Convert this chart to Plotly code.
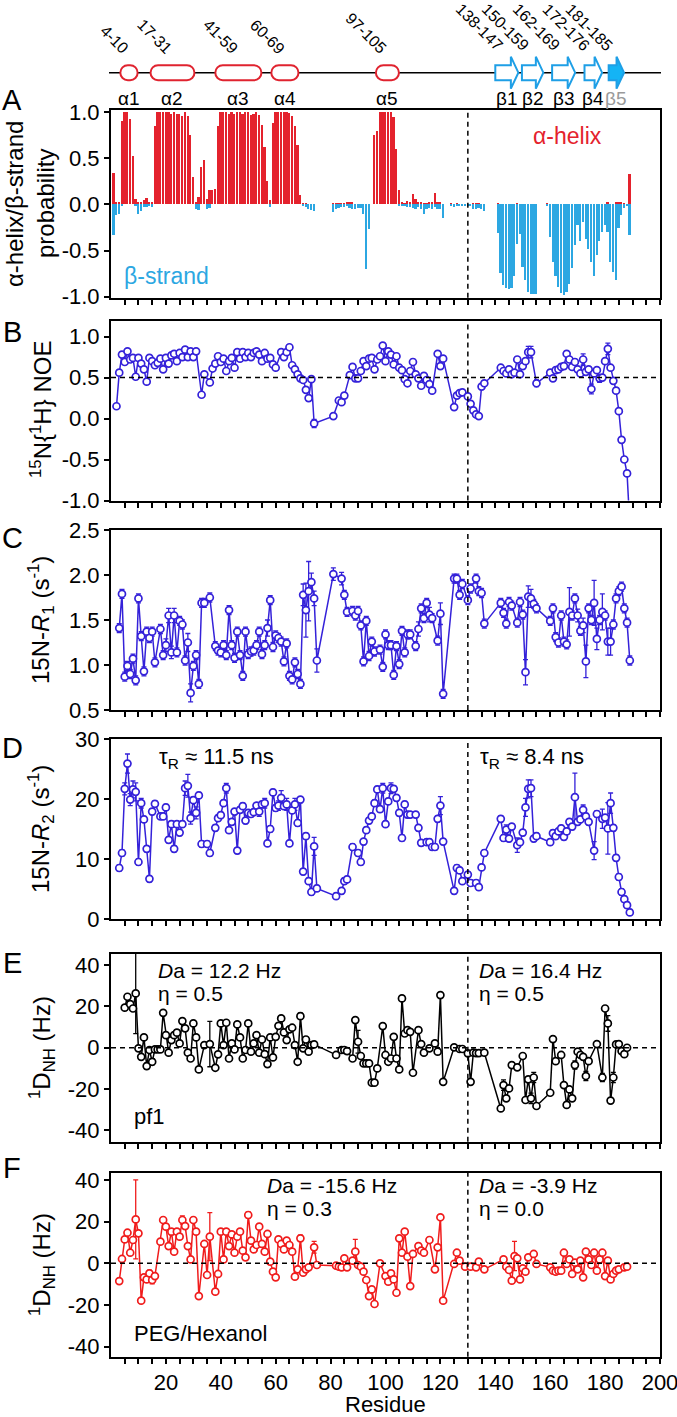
import plotly.graph_objects as go

W, H = 677, 1417


def rng(a, b):
    return list(range(a, b + 1))


# ---------------- DATA ----------------
# Panel A: secondary-structure probability (helix > 0, strand < 0)
ss_res = rng(1, 74) + rng(81, 121) + rng(124, 136) + rng(141, 155) + rng(159, 189)
helix_prob = [
    0.34, 0.03, 0.03, 0.90, 1.00, 1.00, 0.92, 0.52, 0.06, 0.02,
    0.02, 0.05, 0.07, 0.02, 0.02, 0.85, 1.00, 1.00, 1.00, 1.00,
    1.00, 0.98, 1.00, 0.98, 0.98, 0.96, 1.00, 0.96, 0.75, 0.30,
    0.03, 0.08, 0.40, 0.48, 0.06, 0.15, 0.16, 0.17, 0.85, 1.00,
    1.00, 1.00, 0.98, 1.00, 0.98, 1.00, 1.00, 0.98, 1.00, 1.00,
    0.97, 0.98, 1.00, 0.97, 0.86, 0.62, 0.25, 0.05, 0.88, 1.00,
    1.00, 1.00, 1.00, 1.00, 0.99, 0.95, 0.85, 0.64, 0.10, 0.01,
    0.01, 0.00, 0.00, 0.00,
    0.01, 0.01, 0.01, 0.01, 0.01, 0.03, 0.03, 0.02, 0.00, 0.00,
    0.00, 0.00, 0.00, 0.00, 0.00, 0.75, 0.79, 1.00, 1.00, 1.00,
    1.00, 1.00, 0.94, 0.60, 0.16, 0.02, 0.01, 0.04, 0.03, 0.11,
    0.06, 0.03, 0.02, 0.01, 0.01, 0.03, 0.03, 0.12, 0.03, 0.02,
    0.00,
    0.01, 0.00, 0.01, 0.00, 0.00, 0.00, 0.00, 0.00, 0.01, 0.01, 0.01, 0.00, 0.00,
    0.01, 0.00, 0.00, 0.00, 0.00, 0.00, 0.00, 0.01, 0.00, 0.00, 0.00, 0.00, 0.00, 0.00, 0.00,
    0.01, 0.00, 0.00, 0.00, 0.00, 0.00, 0.00, 0.00, 0.00, 0.00,
    0.00, 0.00, 0.00, 0.00, 0.00, 0.00, 0.00, 0.00, 0.00, 0.00,
    0.00, 0.00, 0.02, 0.00, 0.00, 0.03, 0.02, 0.02, 0.01, 0.00, 0.33,
]
strand_prob = [
    -0.33, -0.12, -0.10, -0.02, 0, 0, 0, 0, -0.02, -0.10,
    -0.07, -0.03, -0.03, -0.02, -0.03, 0, 0, 0, 0, 0,
    0, 0, 0, 0, 0, 0, 0, 0, 0, 0,
    -0.05, -0.06, 0, 0, -0.05, -0.04, 0, 0, 0, 0,
    0, 0, 0, 0, 0, 0, 0, 0, 0, 0,
    0, 0, 0, 0, 0, 0, 0, -0.03, 0, 0,
    0, 0, 0, 0, 0, 0, 0, 0, 0, -0.02,
    -0.03, -0.05, -0.06, -0.07,
    -0.08, -0.05, -0.04, -0.03, -0.03, -0.02, -0.04, -0.05, -0.05, -0.04,
    -0.04, -0.10, -0.70, -0.27, 0, 0, 0, 0, 0, 0,
    0, 0, 0, 0, -0.02, -0.02, -0.02, -0.03, -0.03, -0.04,
    -0.05, -0.03, -0.05, -0.10, -0.05, -0.04, -0.05, -0.03, -0.05, -0.05,
    -0.15,
    -0.02, -0.03, -0.02, -0.02, -0.02, -0.01, -0.01, -0.02, -0.05, -0.05, -0.04, -0.05, -0.07,
    -0.31, -0.74, -0.87, -0.90, -0.92, -0.90, -0.77, -0.43, -0.32, -0.68, -0.82, -0.95, -0.97, -0.97, -0.97,
    -0.02, -0.35, -0.62, -0.78, -0.89, -0.96, -0.98, -0.95, -0.86, -0.69,
    -0.44, -0.22, -0.40, -0.19, -0.37, -0.48, -0.62, -0.77, -0.55, -0.40,
    -0.30, -0.22, -0.30, -0.62, -0.73, -0.82, -0.26, -0.12, -0.04, -0.02, -0.33,
]

# Panel B: 15N{1H} NOE
noe_res = (rng(2, 31) + [33, 34] + rng(36, 60) + rng(62, 74) + [81, 83, 84, 85] + rng(87, 117)
           + [119, 120, 121, 125, 126, 127, 128, 130, 131, 132, 133, 134, 135, 136]
           + rng(142, 153) + [155] + rng(160, 189))
noe_val = [
    0.15, 0.56, 0.78, 0.69, 0.82, 0.72, 0.74, 0.51, 0.74, 0.67, 0.60, 0.45, 0.74, 0.70, 0.65,
    0.68, 0.73, 0.60, 0.74, 0.67, 0.77, 0.79, 0.70, 0.80, 0.75, 0.84, 0.75, 0.82, 0.75, 0.82,
    0.29, 0.54,
    0.44, 0.61, 0.67, 0.76, 0.69, 0.73, 0.58, 0.70, 0.74, 0.62, 0.81, 0.73, 0.81, 0.75, 0.80,
    0.75, 0.80, 0.82, 0.78, 0.70, 0.80, 0.73, 0.74, 0.66, 0.62,
    0.81, 0.75, 0.81, 0.87, 0.65, 0.60, 0.54, 0.49, 0.47, 0.35, 0.25, 0.48, -0.06,
    0.03, 0.22, 0.20, 0.28,
    0.53, 0.63, 0.49, 0.49, 0.58, 0.70, 0.64, 0.73, 0.74, 0.60, 0.72, 0.76, 0.89, 0.70, 0.82,
    0.78, 0.66, 0.76, 0.62, 0.59, 0.48, 0.43, 0.58, 0.69, 0.54, 0.49, 0.40, 0.52, 0.47, 0.42, 0.34,
    0.79, 0.64, 0.73, 0.14, 0.28, 0.31, 0.32, 0.27, 0.18, 0.10, 0.05, 0.03, 0.39, 0.43,
    0.62, 0.58, 0.55, 0.60, 0.54, 0.56, 0.72, 0.54, 0.64, 0.70, 0.81, 0.81, 0.43,
    0.56, 0.49, 0.59, 0.60, 0.63, 0.64, 0.79, 0.72, 0.63, 0.69, 0.60, 0.55, 0.72, 0.57, 0.60,
    0.36, 0.55, 0.59, 0.49, 0.50, 0.70, 0.85, 0.62, 0.46, 0.34, 0.09, -0.26, -0.50, -0.67, -1.30,
]
noe_err_default = 0.03
noe_err_big = {74: 0.05, 152: 0.07, 153: 0.07, 155: 0.04, 172: 0.07, 175: 0.06, 178: 0.05, 181: 0.07}

# Panel C: 15N-R1 (s^-1)
r1_res = (rng(3, 16) + rng(18, 34) + [36] + rng(38, 75) + [81] + rng(84, 86) + rng(88, 96)
          + rng(98, 109) + rng(111, 117) + rng(119, 121) + rng(125, 128) + [130, 131]
          + rng(133, 136) + rng(142, 146) + rng(148, 155) + rng(160, 189))
r1_val = [
    1.41, 1.79, 0.87, 0.99, 0.90, 1.07, 0.83, 1.74, 1.32, 0.93, 1.37, 1.30, 1.37, 1.03,
    1.40, 1.11, 1.22, 1.55, 1.14, 1.55, 1.14, 1.49, 1.45, 1.05, 1.25, 0.69, 0.99, 1.11, 0.79, 1.69, 1.69,
    1.75,
    1.21, 1.16, 1.14, 1.22, 1.11, 1.61, 1.22, 1.08, 1.37, 1.11, 0.88, 1.37, 1.12, 1.15, 1.16, 1.22,
    1.37, 1.12, 1.22, 1.41, 1.72, 1.20, 1.33, 1.30, 1.26, 1.04, 1.24, 0.88, 0.84, 1.03, 0.90, 0.79,
    1.78, 1.61, 1.82, 1.92, 1.74, 1.05,
    2.01,
    1.96, 1.78, 1.59,
    1.60, 1.55, 1.60, 1.44, 1.04, 1.49, 1.10, 1.26, 1.15,
    1.17, 0.98, 1.34, 1.22, 1.22, 0.89, 1.21, 1.01, 1.38, 1.14, 1.34, 1.34,
    1.21, 1.40, 1.63, 1.52, 1.69, 1.56, 1.52,
    1.27, 1.57, 0.68,
    1.96, 1.96, 1.78, 1.90,
    1.72, 1.85,
    1.96, 1.82, 1.80, 1.46,
    1.69, 1.58, 1.46, 1.70, 1.66,
    1.47, 1.70, 1.56, 0.92, 1.76, 1.74, 1.68, 1.63,
    1.49, 1.63, 1.31, 1.25, 1.55, 1.26, 1.23, 1.59, 1.55, 1.74, 1.55, 1.38, 1.44, 1.04, 1.63,
    1.50, 1.69, 1.29, 1.50, 1.59, 1.55, 1.26, 1.26, 1.45, 1.74, 1.82, 1.87, 1.63, 1.47, 1.05,
]
r1_err_default = 0.05
r1_err_big = {20: 0.07, 21: 0.08, 22: 0.07, 23: 0.08, 28: 0.1, 29: 0.1, 57: 0.09, 70: 0.12,
              71: 0.30, 72: 0.33, 73: 0.10, 74: 0.08, 75: 0.13, 81: 0.07, 84: 0.07, 112: 0.08,
              116: 0.08, 120: 0.12, 151: 0.14, 152: 0.12, 153: 0.10, 167: 0.27, 170: 0.07,
              172: 0.08, 173: 0.18, 176: 0.25, 177: 0.12, 179: 0.20, 181: 0.15, 182: 0.15}

# Panel D: 15N-R2 (s^-1)
r2_res = (rng(3, 16) + rng(18, 33) + [35, 36] + rng(38, 75) + [82] + rng(84, 86) + [88]
          + rng(90, 109) + rng(111, 113) + rng(115, 121) + rng(125, 128) + [130, 131]
          + rng(133, 136) + rng(142, 146) + rng(148, 155) + rng(160, 174) + [176, 177]
          + rng(179, 189))
r2_val = [
    8.5, 11.0, 21.7, 25.9, 19.9, 21.6, 21.2, 9.5, 19.3, 16.6, 11.7, 6.7, 17.9, 19.2,
    17.1, 17.1, 18.6, 13.2, 15.8, 11.7, 15.8, 14.4, 15.8, 21.8, 22.2, 16.8, 19.8, 17.7, 20.6, 12.5,
    12.5, 11.0,
    15.2, 16.8, 17.3, 19.3, 21.8, 14.8, 16.2, 17.9, 11.4, 18.2, 18.8, 16.4, 17.7, 17.5, 17.8, 18.9,
    17.9, 19.1, 19.3, 12.6, 15.0, 21.1, 18.5, 18.9, 20.2, 18.8, 19.1, 12.6, 18.1, 19.1, 16.0, 19.9,
    7.9, 13.8, 6.3, 4.5, 12.1, 5.1,
    3.8,
    4.7, 6.3, 6.6,
    12.0,
    11.0, 9.5, 12.9, 14.8, 16.4, 17.1, 19.3, 21.6, 18.3, 21.8, 15.8, 19.6, 21.8, 21.7, 20.2, 17.7,
    13.5, 19.1, 17.4, 17.4,
    17.4, 15.2, 12.7,
    12.8, 12.8, 12.0, 12.0, 16.7, 18.9, 12.9,
    4.7, 8.5, 8.1, 6.3,
    7.4, 6.0,
    6.0, 5.3, 8.6, 11.0,
    16.7, 13.5, 14.9, 13.4, 15.4,
    12.3, 12.8, 14.4, 18.6, 21.7, 21.8, 13.4, 13.8,
    12.8, 14.3, 13.8, 14.6, 15.1, 13.7, 14.6, 16.2, 15.4, 20.3, 16.2, 16.6, 18.2, 17.1, 16.2,
    11.4, 17.5,
    16.7, 16.9, 15.1, 19.3, 15.2, 10.2, 7.0, 4.5, 3.3, 2.3, 1.1,
]
r2_err_default = 0.5
r2_err_big = {5: 1.0, 6: 1.6, 7: 1.0, 8: 1.4, 9: 1.5, 11: 0.8, 27: 1.2, 28: 1.9, 29: 1.0,
              31: 1.0, 42: 0.8, 54: 0.8, 56: 0.8, 61: 0.8, 62: 1.2, 64: 1.0, 67: 1.0, 74: 1.5,
              99: 0.8, 102: 0.9, 120: 1.5, 144: 0.8, 148: 1.2, 151: 1.5, 152: 1.5, 153: 1.4,
              169: 4.0, 172: 0.8, 176: 1.5, 179: 1.6, 181: 4.3, 182: 1.7}

# Panel E: 1D_NH in pf1 (Hz)
pf1_res = (rng(5, 32) + [34, 36] + rng(38, 74) + [82] + rng(84, 86) + rng(88, 97) + rng(99, 110)
           + rng(112, 114) + [116] + rng(118, 121) + [125, 127, 128] + rng(130, 134) + [136]
           + rng(142, 146) + [148] + rng(150, 155) + rng(160, 162) + rng(164, 174) + [177]
           + rng(179, 188))
pf1_val = [
    19.4, 24.7, 21.1, 19.0, 26.3, -0.3, -4.4, 5.0, -8.9, -1.1, -6.8, -0.8, -0.8, -0.8, 16.9,
    6.1, -2.4, 3.7, 6.1, 7.3, 2.1, 12.9, 9.4, -2.4, -5.2, 11.8, 5.0, -10.5,
    1.3, 1.8,
    -9.7, -3.2, 11.8, 1.3, 12.1, -5.2, 2.1, -0.8, 11.3, 5.0, -5.2, -1.1, 11.8, -1.9, 2.1, 6.1,
    -2.4, 4.0, -3.1, -7.9, 5.0, -4.7, 5.3, 10.6, 14.2, 7.4, 3.7, 8.9, 9.7, 1.3, -6.8, 15.3,
    -0.3, 4.0, -1.9, 1.3, 1.6,
    -3.5,
    -1.1, -1.1, -1.6,
    -5.2, 13.4, 2.9, -4.0, -7.6, -7.6, -7.6, -16.9, -16.9, -10.0,
    10.5, -3.5, -6.8, -5.2, 5.3, -5.2, -10.5, 23.9, 6.9, 8.5, 7.7, -12.1,
    8.5, 1.8, -2.4,
    -0.3,
    2.1, -1.9, 25.5, -16.5,
    0.2, -0.6, -0.6,
    -2.7, -16.5, -2.4, -2.6, -2.6,
    -2.4,
    -29.4, -18.1, -24.5, -19.7, -8.4,
    -9.5,
    -4.0, -25.3, -15.3, -24.5, -14.4, -28.2,
    -21.8, 4.2, -6.5,
    -3.5, -18.1, -27.7, -20.2, -24.5, -8.4, -1.9, -3.5, -4.4, -13.7, -6.5,
    1.8,
    -14.4, 19.0, 11.8, -25.6, -14.4, 1.6, 1.8, -1.6, -3.1, 0.0,
]
pf1_err_default = 0.8
pf1_err_big = {9: 19.5, 13: 1.5, 15: 1.5, 24: 1.5, 26: 1.2, 36: 11.0, 69: 1.5, 90: 5.5,
               143: 2.5, 153: 2.5, 154: 2.5, 169: 2.0, 173: 2.2, 179: 2.0, 181: 3.8, 183: 2.5}

# Panel F: 1D_NH in PEG/hexanol (Hz)
peg_res = (rng(3, 16) + rng(18, 32) + rng(34, 36) + rng(38, 72) + [74, 75] + rng(82, 86)
           + rng(88, 96) + [98] + rng(100, 110) + rng(112, 114) + [116] + rng(118, 121)
           + rng(125, 127) + [129, 131, 133, 134, 136] + rng(143, 152) + [154, 155]
           + rng(160, 185) + [187, 188])
peg_val = [
    -8.5, 2.1, 11.5, 14.7, 5.1, 11.2, 21.1, 14.4, -17.9, -6.7, -7.7, -4.8, -8.0, -6.1,
    10.4, 20.8, 17.6, 8.3, 15.2, 5.6, 15.2, 12.8, 20.8, 17.9, 8.3, 1.9, 20.8, 15.2, -15.7,
    9.3, -5.6, 12.8,
    -13.6, -5.1, 15.2, 1.9, 15.2, 8.3, 13.9, 5.1, 12.8, 15.2, 6.1, 2.9, 23.2, 10.9, 6.7, 8.8,
    17.6, 9.3, 5.6, 14.1, 0.8, -4.0, -6.7, 11.5, 9.3, 6.7, 10.9, 8.8, 5.6, -6.4, -2.9, 12.0,
    -4.5, -2.9, -1.9,
    7.7, -0.8,
    -1.1, -1.6, -1.9, 2.4, -1.9,
    1.3, 5.6, -0.8, -1.6, -4.0, -8.0, -15.7, -12.5, -19.5,
    0.0,
    -6.1, -8.8, -4.8, -7.7, -14.1, 12.0, 5.1, 15.2, 3.2, -10.9, 4.5,
    8.3, 6.1, 5.1,
    11.2,
    -2.9, 7.7, 22.1, -17.9,
    -0.3, 5.1, 1.3,
    -1.6, -1.6, -1.9, 0.8, -2.9,
    1.9, -1.6, -3.2, -8.3, 3.5, 2.4, -7.7, -2.4, -4.0, 2.9,
    4.5, -0.3,
    -1.9, -3.5, -4.0, -3.5, -3.5, 5.1, -0.3, 1.9, -5.1, 0.3, -2.9, 1.3, -6.7, 5.6, 1.9,
    -0.8, 5.1, -3.5, 1.9, 5.1, -6.1, 1.3, -7.7, -5.1, -3.5, -2.9,
    -1.9, -1.6,
]
peg_err_default = 0.8
peg_err_big = {9: 19.0, 14: 1.5, 15: 1.8, 22: 1.5, 26: 2.0, 36: 11.5, 50: 1.5, 69: 1.5,
               74: 2.8, 89: 5.9, 147: 7.0}

# Secondary-structure diagram (extent as drawn, in residue units) and labels
helix_names = ["α1", "α2", "α3", "α4", "α5"]
helix_ranges = ["4-10", "17-31", "41-59", "60-69", "97-105"]
helix_start = [3.4, 14.4, 38.0, 58.4, 96.5]
helix_end = [9.7, 30.4, 54.8, 68.3, 104.9]
strand_names = ["β1", "β2", "β3", "β4", "β5"]
strand_ranges = ["138-147", "150-159", "162-169", "172-176", "181-185"]
strand_start = [140.0, 149.7, 160.7, 172.5, 181.3]
strand_end = [148.4, 157.5, 169.1, 178.9, 186.9]

domain_boundary = 130
x_tick_vals = [20, 40, 60, 80, 100, 120, 140, 160, 180, 200]

assert len(ss_res) == len(helix_prob) == len(strand_prob), (len(ss_res), len(helix_prob), len(strand_prob))
assert len(noe_res) == len(noe_val), (len(noe_res), len(noe_val))
assert len(r1_res) == len(r1_val), (len(r1_res), len(r1_val))
assert len(r2_res) == len(r2_val), (len(r2_res), len(r2_val))
assert len(pf1_res) == len(pf1_val), (len(pf1_res), len(pf1_val))
assert len(peg_res) == len(peg_val), (len(peg_res), len(peg_val))


def errs(res, default, big):
    return [big.get(r, default) for r in res]


# ---------------- STYLE / LAYOUT ----------------
FONT = "Liberation Sans, Arial, Helvetica, sans-serif"
RED_BAR = "#e4222d"
BLUE_BAR = "#2ca7e2"
VIOLET = "#3421d9"
RED_LINE = "#f01c1c"
SS_RED = "#e0232f"
SS_BLUE = "#1e9fe6"

PX_L, PX_R = 111, 660
PXR = (PX_R - PX_L) / 200.0


def py(px):
    return 1 - px / H


XD = [PX_L / W, PX_R / W]

panels = [
    # (top px, bottom px, y range, tickvals, ticktext)
    (110, 297.7, [-1.01, 1.02], [-1, -0.5, 0, 0.5, 1], ["-1.0", "-0.5", "0.0", "0.5", "1.0"]),
    (321, 500.5, [-1.0, 1.19], [-1, -0.5, 0, 0.5, 1], ["-1.0", "-0.5", "0.0", "0.5", "1.0"]),
    (530, 710, [0.5, 2.5], [0.5, 1, 1.5, 2, 2.5], ["0.5", "1.0", "1.5", "2.0", "2.5"]),
    (739, 919, [0, 30], [0, 10, 20, 30], ["0", "10", "20", "30"]),
    (954, 1141.7, [-45.5, 45.4], [-40, -20, 0, 20, 40], ["-40", "-20", "0", "20", "40"]),
    (1172.7, 1356.7, [-44.8, 43.5], [-40, -20, 0, 20, 40], ["-40", "-20", "0", "20", "40"]),
]

fig = go.Figure()

# Panel A bars
fig.add_trace(go.Bar(x=ss_res, y=helix_prob, width=0.62, marker=dict(color=RED_BAR, line=dict(width=0)),
                     xaxis="x", yaxis="y", showlegend=False))
fig.add_trace(go.Bar(x=ss_res, y=strand_prob, width=0.62, marker=dict(color=BLUE_BAR, line=dict(width=0)),
                     xaxis="x", yaxis="y", showlegend=False))


def add_series(res, val, err, color, idx):
    fig.add_trace(go.Scatter(
        x=res, y=val, mode="lines+markers",
        line=dict(color=color, width=1.5),
        marker=dict(symbol="circle", size=7, color="white", line=dict(color=color, width=1.7)),
        error_y=dict(type="data", array=err, color=color, thickness=1.3, width=2.5),
        xaxis="x%d" % idx, yaxis="y%d" % idx, showlegend=False))


add_series(noe_res, noe_val, errs(noe_res, noe_err_default, noe_err_big), VIOLET, 2)
add_series(r1_res, r1_val, errs(r1_res, r1_err_default, r1_err_big), VIOLET, 3)
add_series(r2_res, r2_val, errs(r2_res, r2_err_default, r2_err_big), VIOLET, 4)
add_series(pf1_res, pf1_val, errs(pf1_res, pf1_err_default, pf1_err_big), "black", 5)
add_series(peg_res, peg_val, errs(peg_res, peg_err_default, peg_err_big), RED_LINE, 6)

layout = dict(
    width=W, height=H, autosize=False,
    margin=dict(l=0, r=0, t=0, b=0, autoexpand=False),
    paper_bgcolor="white", plot_bgcolor="white",
    font=dict(family=FONT, color="black", size=22),
    barmode="overlay", bargap=0,
    showlegend=False, hovermode=False,
)

minor_vals = list(range(5, 200, 5))
for i, (top, bot, yr, tv, tt) in enumerate(panels, start=1):
    xk = "xaxis" if i == 1 else "xaxis%d" % i
    yk = "yaxis" if i == 1 else "yaxis%d" % i
    last = (i == len(panels))
    layout[xk] = dict(
        domain=XD, range=[0, 200], anchor="y" if i == 1 else "y%d" % i,
        automargin=False,
        showline=True, mirror=True, linecolor="black", linewidth=2,
        showgrid=False, zeroline=False,
        ticks="outside", ticklen=5, tickwidth=1.5, tickcolor="black",
        tickmode="array", tickvals=x_tick_vals, ticktext=[str(v) for v in x_tick_vals],
        showticklabels=last, tickfont=dict(size=22), ticklabeloverflow="allow",
        minor=dict(tickmode="array", tickvals=minor_vals, ticks="outside", ticklen=5,
                   tickwidth=1.5, tickcolor="black", showgrid=False),
    )
    layout[yk] = dict(
        domain=[py(bot), py(top)], range=yr, anchor="x" if i == 1 else "x%d" % i,
        automargin=False,
        showline=True, mirror=True, linecolor="black", linewidth=2,
        showgrid=False, zeroline=False,
        ticks="outside", ticklen=5, tickwidth=1.5, tickcolor="black",
        tickmode="array", tickvals=tv, ticktext=tt, tickfont=dict(size=22),
    )

shapes = []
annotations = []

# vertical dashed line at domain boundary in every panel
for i in range(1, 7):
    xr = "x" if i == 1 else "x%d" % i
    yr = "y" if i == 1 else "y%d" % i
    shapes.append(dict(type="line", xref=xr, yref=yr + " domain", x0=domain_boundary, x1=domain_boundary,
                       y0=0, y1=1, line=dict(color="black", width=1.5, dash="5px,4px")))

# horizontal dashed reference lines
for i, yv in [(2, 0.5), (5, 0), (6, 0)]:
    shapes.append(dict(type="line", xref="x%d domain" % i, yref="y%d" % i, x0=0, x1=1, y0=yv, y1=yv,
                       line=dict(color="black", width=1.5, dash="5px,4px")))

# ---------- secondary-structure diagram ----------
LINE_Y = 72.7
shapes.append(dict(type="line", xref="paper", yref="paper", x0=109 / W, x1=661 / W,
                   y0=py(LINE_Y), y1=py(LINE_Y), line=dict(color="black", width=1.5)))


def stadium(x0, x1, yc, hh):
    rx = hh / PXR
    k = 0.5523
    yt, yb, ym = py(yc - hh), py(yc + hh), py(yc)
    ry = yt - ym
    a, b = x0 + rx, x1 - rx
    return (f"M {a},{yt} L {b},{yt} "
            f"C {b + k * rx},{yt} {x1},{ym + k * ry} {x1},{ym} "
            f"C {x1},{ym - k * ry} {b + k * rx},{yb} {b},{yb} "
            f"L {a},{yb} "
            f"C {a - k * rx},{yb} {x0},{ym - k * ry} {x0},{ym} "
            f"C {x0},{ym + k * ry} {a - k * rx},{yt} {a},{yt} Z")


def arrow(x0, x1, yc, bh, hh, hl):
    xb = x1 - hl / PXR
    return (f"M {x0},{py(yc - bh)} L {xb},{py(yc - bh)} L {xb},{py(yc - hh)} L {x1},{py(yc)} "
            f"L {xb},{py(yc + hh)} L {xb},{py(yc + bh)} L {x0},{py(yc + bh)} Z")


for s, e, nm, rg in zip(helix_start, helix_end, helix_names, helix_ranges):
    shapes.append(dict(type="path", xref="x", yref="paper", path=stadium(s, e, LINE_Y, 7.5),
                       line=dict(color=SS_RED, width=2), fillcolor="white"))
    c = (s + e) / 2
    annotations.append(dict(x=c, y=py(98), xref="x", yref="paper", text=nm, showarrow=False,
                            font=dict(size=19), xanchor="center", yanchor="middle"))
    annotations.append(dict(x=c + 2.0, y=py(60), xref="x", yref="paper", text=rg, showarrow=False,
                            textangle=45, font=dict(size=16), xanchor="right", yanchor="bottom"))

for j, (s, e, nm, rg) in enumerate(zip(strand_start, strand_end, strand_names, strand_ranges)):
    last = (j == len(strand_start) - 1)
    shapes.append(dict(type="path", xref="x", yref="paper", path=arrow(s, e, LINE_Y, 7.5, 16, 7.5),
                       line=dict(color=SS_BLUE, width=2),
                       fillcolor="#14b4f5" if last else "white"))
    c = (s + e) / 2
    annotations.append(dict(x=c + 1.0, y=py(57), xref="x", yref="paper", text=rg, showarrow=False,
                            textangle=45, font=dict(size=16), xanchor="right", yanchor="bottom"))
    annotations.append(dict(x=c, y=py(98), xref="x", yref="paper", text=nm, showarrow=False,
                            font=dict(size=19, color="#9a9a9a" if last else "black"),
                            xanchor="center", yanchor="middle"))

# ---------- panel letters ----------
for letter, ypx in zip("ABCDEF", [100, 332, 538, 748, 963, 1168]):
    annotations.append(dict(x=12 / W, y=py(ypx), xref="paper", yref="paper", text=letter,
                            showarrow=False, font=dict(size=29), xanchor="center", yanchor="middle"))


# ---------- y-axis titles ----------
def ytitle(text, xpx, ypx, size=24):
    annotations.append(dict(x=xpx / W, y=py(ypx), xref="paper", yref="paper", text=text,
                            showarrow=False, textangle=-90, font=dict(size=size),
                            xanchor="center", yanchor="middle"))


ytitle("α-helix/β-strand", 14, 204)
ytitle("probability", 45, 204)
ytitle("<sup>15</sup>N{<sup>1</sup>H} NOE", 41, 410)
ytitle("15N-<i>R</i><sub>1</sub> (s<sup>-1</sup>)", 41, 620)
ytitle("15N-<i>R</i><sub>2</sub> (s<sup>-1</sup>)", 41, 829)
ytitle("<sup>1</sup>D<sub>NH</sub> (Hz)", 42, 1048)
ytitle("<sup>1</sup>D<sub>NH</sub> (Hz)", 42, 1265)

# x-axis title
annotations.append(dict(x=385 / W, y=py(1404), xref="paper", yref="paper", text="Residue",
                        showarrow=False, font=dict(size=22), xanchor="center", yanchor="middle"))

# ---------- in-panel texts ----------
annotations.append(dict(x=166.4, y=0.74, xref="x", yref="y", text="α-helix", showarrow=False,
                        font=dict(size=23, color=RED_BAR), xanchor="center", yanchor="middle"))
annotations.append(dict(x=20.2, y=-0.77, xref="x", yref="y", text="β-strand", showarrow=False,
                        font=dict(size=23, color=BLUE_BAR), xanchor="center", yanchor="middle"))


def ptext(text, x, ypx, size=21):
    annotations.append(dict(x=x, y=py(ypx), xref="x", yref="paper", text=text, showarrow=False,
                            font=dict(size=size), xanchor="left", yanchor="middle"))


ptext("τ<sub>R</sub> ≈ 11.5 ns", 16.8, 758, 22)
ptext("τ<sub>R</sub> ≈ 8.4 ns", 133.7, 758, 22)
ptext("<i>D</i>a = 12.2 Hz", 16.4, 970)
ptext("η = 0.5", 16.4, 993)
ptext("<i>D</i>a = 16.4 Hz", 133.3, 970)
ptext("η = 0.5", 133.3, 993)
ptext("pf1", 7.6, 1116, 22)
ptext("<i>D</i>a = -15.6 Hz", 56.0, 1185)
ptext("η = 0.3", 56.0, 1208)
ptext("<i>D</i>a = -3.9 Hz", 133.3, 1185)
ptext("η = 0.0", 133.3, 1208)
ptext("PEG/Hexanol", 7.6, 1333, 22)

layout["shapes"] = shapes
layout["annotations"] = annotations
fig.update_layout(**layout)

# the page's default 8px body margin would shift the fixed-size figure; remove it.
# The mode bar is hidden so it cannot cover the secondary-structure labels.
fig.write_html("out.html", config={"displayModeBar": False},
               post_script="document.body.style.margin='0px';")
